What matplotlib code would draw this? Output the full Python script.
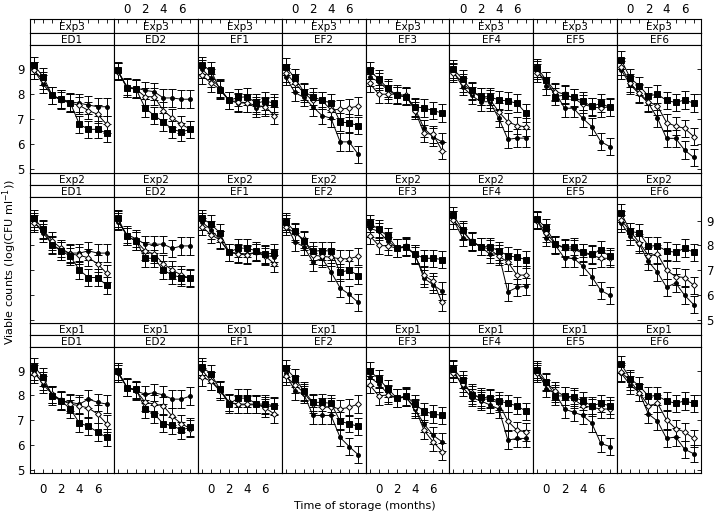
import matplotlib
matplotlib.use("Agg")
import matplotlib.pyplot as plt

# storage time points and panel labels
months = [-1, 0, 1, 2, 3, 4, 5, 6, 7]
treatments = ["ED1", "ED2", "EF1", "EF2", "EF3", "EF4", "EF5", "EF6"]
experiments = ["Exp3", "Exp2", "Exp1"]
err = 0.35

# filled squares
sq_exp3 = [
    [9.15, 8.7, 7.95, 7.8, 7.65, 6.8, 6.6, 6.6, 6.45],
    [8.95, 8.25, 8.2, 7.45, 7.15, 6.9, 6.6, 6.5, 6.6],
    [9.15, 8.95, 8.17, 7.75, 7.87, 7.9, 7.64, 7.73, 7.64],
    [9.1, 8.65, 8.1, 7.9, 7.75, 7.65, 6.9, 6.85, 6.75],
    [8.95, 8.6, 8.24, 7.95, 7.9, 7.5, 7.45, 7.35, 7.25],
    [9.0, 8.6, 8.15, 7.9, 7.9, 7.77, 7.73, 7.64, 7.24],
    [9.04, 8.55, 7.9, 7.97, 7.87, 7.73, 7.51, 7.64, 7.47],
    [9.37, 8.64, 8.33, 7.93, 8.0, 7.75, 7.67, 7.77, 7.64],
]
sq_exp2 = [
    [9.1, 8.66, 8.0, 7.78, 7.56, 7.0, 6.7, 6.7, 6.39],
    [9.1, 8.37, 8.18, 7.48, 7.48, 7.0, 6.8, 6.7, 6.7],
    [9.1, 8.87, 8.5, 7.72, 7.89, 7.89, 7.78, 7.65, 7.69],
    [8.96, 8.57, 8.18, 7.78, 7.78, 7.78, 6.91, 7.0, 6.78],
    [8.9, 8.66, 8.37, 7.89, 7.95, 7.65, 7.48, 7.48, 7.43],
    [9.22, 8.63, 8.14, 7.95, 7.95, 7.78, 7.59, 7.52, 7.43],
    [9.05, 8.7, 8.05, 7.92, 7.95, 7.72, 7.65, 7.81, 7.56],
    [9.31, 8.57, 8.5, 7.98, 7.98, 7.78, 7.72, 7.89, 7.72],
]
sq_exp1 = [
    [9.17, 8.74, 7.98, 7.78, 7.45, 6.88, 6.75, 6.52, 6.3],
    [8.97, 8.31, 8.25, 7.45, 7.25, 6.85, 6.79, 6.59, 6.72],
    [9.17, 8.87, 8.25, 7.65, 7.89, 7.89, 7.65, 7.65, 7.58],
    [9.1, 8.71, 8.18, 7.72, 7.72, 7.68, 6.96, 6.85, 6.75],
    [9.0, 8.67, 8.28, 7.89, 7.98, 7.65, 7.36, 7.25, 7.19],
    [9.08, 8.64, 8.02, 7.94, 7.89, 7.78, 7.68, 7.58, 7.36],
    [9.04, 8.55, 7.98, 7.98, 7.94, 7.78, 7.58, 7.68, 7.58],
    [9.26, 8.68, 8.38, 7.98, 7.98, 7.78, 7.68, 7.78, 7.68],
]

# small filled dots
dot_exp3 = [
    [8.95, 8.4, 7.95, 7.8, 7.7, 7.64, 7.57, 7.5, 7.5],
    [8.9, 8.25, 8.25, 8.15, 8.1, 7.85, 7.85, 7.8, 7.8],
    [9.0, 8.65, 8.25, 7.75, 7.65, 7.65, 7.45, 7.55, 7.55],
    [8.7, 8.07, 7.87, 7.5, 7.15, 7.04, 6.1, 6.1, 5.6],
    [8.68, 8.5, 8.17, 7.95, 7.9, 7.44, 6.64, 6.3, 6.1],
    [8.9, 8.3, 7.95, 7.7, 7.7, 7.04, 6.2, 6.25, 6.25],
    [8.97, 8.33, 8.07, 7.44, 7.44, 7.04, 6.71, 6.11, 5.91],
    [8.97, 8.37, 8.01, 7.64, 7.04, 6.24, 6.24, 5.77, 5.48],
]
dot_exp2 = [
    [8.96, 8.5, 8.05, 7.78, 7.69, 7.69, 7.78, 7.69, 7.69],
    [8.96, 8.44, 8.27, 8.05, 8.05, 8.05, 7.88, 7.98, 7.98],
    [8.96, 8.63, 8.24, 7.72, 7.69, 7.65, 7.72, 7.61, 7.52],
    [8.9, 8.14, 7.95, 7.33, 7.48, 6.93, 6.28, 6.02, 5.69],
    [8.7, 8.57, 8.18, 7.89, 7.92, 7.65, 6.67, 6.41, 6.15],
    [9.03, 8.31, 8.18, 7.95, 7.65, 7.65, 6.12, 6.3, 6.35],
    [9.0, 8.31, 8.0, 7.48, 7.48, 7.17, 6.74, 6.18, 5.98],
    [8.9, 8.37, 8.05, 7.35, 6.91, 6.31, 6.48, 5.98, 5.6],
]
dot_exp1 = [
    [8.97, 8.44, 8.05, 7.78, 7.72, 7.65, 7.85, 7.72, 7.65],
    [8.9, 8.34, 8.18, 8.05, 8.11, 8.02, 7.85, 7.85, 7.98],
    [9.04, 8.58, 8.25, 7.72, 7.62, 7.62, 7.62, 7.58, 7.54],
    [8.9, 8.18, 8.05, 7.19, 7.19, 7.19, 6.3, 5.93, 5.6],
    [8.74, 8.47, 8.07, 7.89, 7.94, 7.45, 6.85, 6.39, 6.12],
    [9.04, 8.34, 7.91, 7.78, 7.62, 7.45, 6.19, 6.26, 6.26],
    [8.97, 8.28, 8.07, 7.45, 7.32, 7.19, 6.88, 6.06, 5.93],
    [8.9, 8.42, 8.11, 7.25, 6.96, 6.26, 6.32, 5.82, 5.64],
]

# open diamonds
dia_exp3 = [
    [8.95, 8.55, 7.95, 7.75, 7.65, 7.55, 7.35, 7.2, 6.8],
    [8.9, 8.3, 8.2, 7.9, 7.9, 7.35, 7.05, 6.8, 6.6],
    [8.75, 8.45, 8.2, 7.75, 7.7, 7.65, 7.55, 7.5, 7.15],
    [8.85, 8.45, 8.05, 7.75, 7.75, 7.37, 7.4, 7.45, 7.53],
    [8.44, 8.0, 8.0, 8.0, 7.95, 7.35, 6.44, 6.4, 5.75],
    [8.85, 8.45, 8.1, 7.9, 7.8, 7.3, 6.9, 6.75, 6.7],
    [8.85, 8.55, 8.1, 8.0, 7.85, 7.6, 7.5, 7.45, 7.5],
    [9.1, 8.44, 8.04, 7.7, 7.53, 6.87, 6.73, 6.64, 6.31],
]
dia_exp2 = [
    [8.9, 8.63, 8.18, 7.88, 7.65, 7.6, 7.5, 7.26, 6.87],
    [9.03, 8.37, 8.18, 7.78, 7.65, 7.26, 7.0, 6.8, 6.67],
    [8.76, 8.44, 8.22, 7.72, 7.65, 7.61, 7.72, 7.56, 7.26],
    [8.76, 8.5, 8.24, 7.61, 7.56, 7.52, 7.46, 7.46, 7.56],
    [8.4, 8.0, 7.98, 7.89, 7.98, 7.6, 6.8, 6.54, 5.69],
    [9.03, 8.57, 8.18, 7.95, 7.85, 7.56, 7.33, 6.8, 6.8],
    [9.0, 8.5, 8.05, 7.88, 7.85, 7.69, 7.61, 7.48, 7.48],
    [9.03, 8.57, 8.11, 7.59, 7.65, 7.0, 6.74, 6.7, 6.39],
]
dia_exp1 = [
    [8.87, 8.58, 8.05, 7.81, 7.65, 7.58, 7.49, 7.25, 6.85],
    [8.97, 8.31, 8.2, 7.72, 7.65, 7.58, 7.15, 6.85, 6.66],
    [8.74, 8.58, 8.18, 7.72, 7.65, 7.65, 7.65, 7.49, 7.25],
    [8.77, 8.44, 8.11, 7.65, 7.54, 7.54, 7.45, 7.52, 7.65],
    [8.44, 7.98, 8.02, 7.89, 7.92, 7.52, 6.59, 6.12, 5.73],
    [8.9, 8.47, 8.11, 7.85, 7.85, 7.68, 6.96, 6.59, 6.52],
    [8.9, 8.51, 8.18, 7.98, 7.85, 7.58, 7.52, 7.45, 7.45],
    [8.95, 8.58, 8.11, 7.58, 7.68, 7.01, 6.66, 6.52, 6.26],
]

squares = [sq_exp3, sq_exp2, sq_exp1]
dots = [dot_exp3, dot_exp2, dot_exp1]
diamonds = [dia_exp3, dia_exp2, dia_exp1]

W, H = 718, 513
fig = plt.figure(figsize=(W / 100, H / 100), dpi=100)


def box(x0, y0, x1, y1):
    # pixel box (top-left origin) -> figure fraction axes
    return fig.add_axes([x0 / W, 1 - y1 / H, (x1 - x0) / W, (y1 - y0) / H])


col_left = [30 + i * 83.875 for i in range(9)]
strip_top = [19, 173, 323]
strip_mid = [33, 185, 335]
plot_top = [45, 197, 347]
plot_bot = [173, 323, 473]
xlim = (-1.45, 7.8)
ylim = (4.86, 9.96)
lw = 0.7
xlabels = ["" if m % 2 else str(m) for m in months]

for r in range(3):
    for c in range(8):
        x0, x1 = col_left[c], col_left[c + 1]
        ax = box(x0, plot_top[r], x1, plot_bot[r])
        ax.set_zorder(2)
        for vals, mk, ms, mfc in [(dots[r][c], "o", 2.8, "black"),
                                   (diamonds[r][c], "D", 3.0, "white"),
                                   (squares[r][c], "s", 4.2, "black")]:
            ax.errorbar(months, vals, yerr=err, color="black", lw=lw,
                        elinewidth=lw, capsize=2.6, capthick=lw,
                        marker=mk, ms=ms, mfc=mfc, mec="black", mew=0.7)
        ax.set_xlim(xlim)
        ax.set_ylim(ylim)
        for s in ax.spines.values():
            s.set_linewidth(0.8)
        ax.set_yticks([5, 6, 7, 8, 9])
        ax.set_yticklabels(["5", "6", "7", "8", "9"])
        ax.set_xticks(months)
        ax.set_xticklabels(xlabels)
        ax.tick_params(direction="in", length=3, width=0.6, labelsize=8.5,
                       left=(c == 0), right=(c == 7),
                       top=False, bottom=(r == 2),
                       labelleft=(c == 0 and r != 1),
                       labelright=(c == 7 and r == 1),
                       labelbottom=(r == 2 and c % 2 == 0), pad=4)
        if r == 2:
            ax.tick_params(axis="x", pad=7)

        # strips
        for y0, y1, label in [(strip_top[r], strip_mid[r], experiments[r]),
                              (strip_mid[r], plot_top[r], treatments[c])]:
            sa = box(x0, y0, x1, y1)
            sa.set_zorder(1)
            sa.set_xticks([])
            sa.set_yticks([])
            for s in sa.spines.values():
                s.set_linewidth(0.8)
            sa.text(0.5, 0.45, label, ha="center", va="center", fontsize=7.5,
                    transform=sa.transAxes)
            if r == 0 and y0 == strip_top[0]:
                sa.set_xlim(xlim)
                sa.set_xticks(months)
                sa.set_xticklabels(xlabels)
                sa.tick_params(axis="x", direction="in", length=3, width=0.6,
                               top=True, bottom=False, labeltop=(c % 2 == 1),
                               labelbottom=False, labelsize=8.5, pad=2)

fig.text(365 / W, 1 - 506 / H, "Time of storage (months)", ha="center",
         va="center", fontsize=8)
fig.text(10 / W, 1 - 262 / H, "Viable counts (log(CFU ml$^{-1}$))",
         ha="center", va="center", rotation=90, fontsize=8)

fig.savefig("out.png", dpi=100)
